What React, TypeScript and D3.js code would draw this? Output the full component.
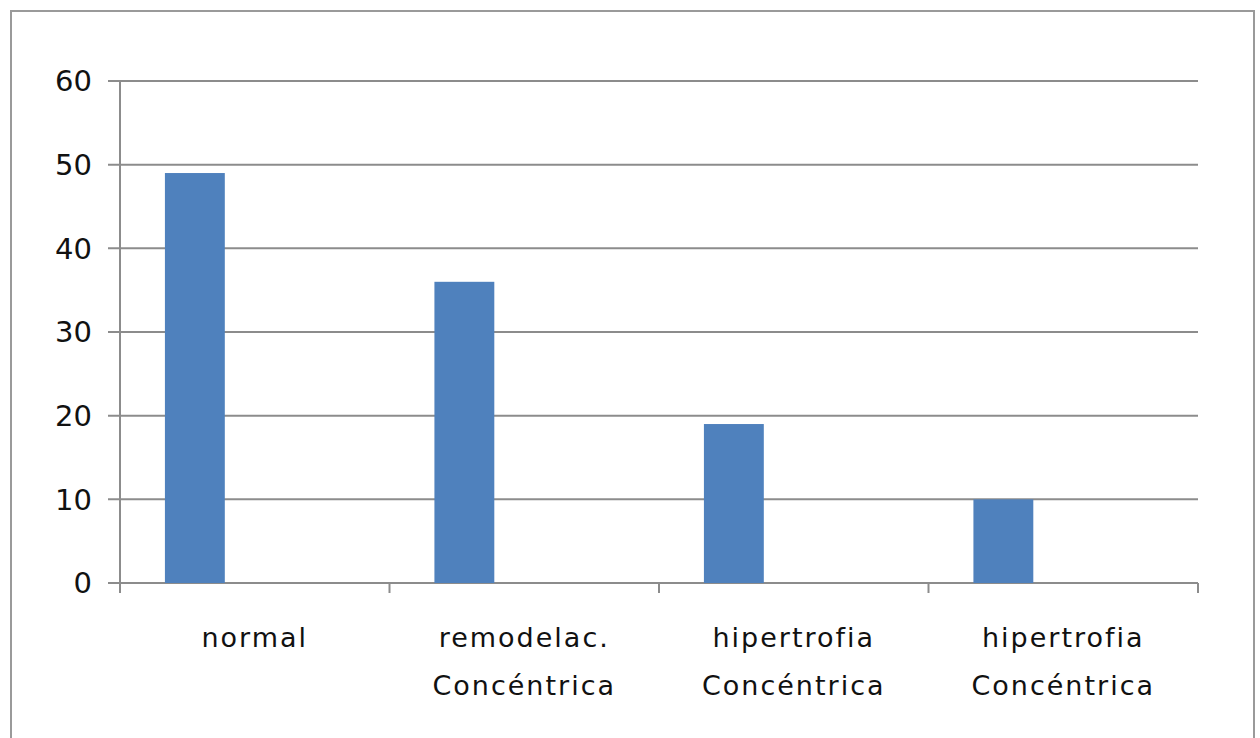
import React from "react";
import * as d3 from "d3";

const categories = ["normal", "remodelac.\nConcéntrica", "hipertrofia\nConcéntrica", "hipertrofia\nConcéntrica "];
const values = [49, 36, 19, 10];
const yTicks = [0, 10, 20, 30, 40, 50, 60];

export default function App() {
  const W = 1260, H = 738;
  const left = 120, right = 1198, top = 81, bottom = 583;
  const x = d3.scaleBand<string>().domain(categories).range([left, right]).padding(0);
  const y = d3.scaleLinear().domain([0, 60]).range([bottom, top]);
  const bw = x.bandwidth() / 4.5;
  const grid = "#8c8c8c";
  const font = "'DejaVu Sans', sans-serif";
  const edges = [...categories.map((c) => x(c) as number), right];
  return (
    <svg width={W} height={H} style={{ position: "absolute", left: 0, top: 0, background: "#fff" }}>
      <rect x={11} y={11} width={1243} height={740} fill="#fff" stroke="#9a9a9a" strokeWidth={2} />
      {yTicks.map((t) => (
        <g key={t}>
          <line x1={108} x2={right} y1={y(t)} y2={y(t)} stroke={grid} strokeWidth={2} />
          <text x={92} y={y(t)} dy="0.36em" textAnchor="end" fontFamily={font} fontSize={29} fill="#111">
            {t}
          </text>
        </g>
      ))}
      <line x1={left} x2={left} y1={top} y2={bottom + 10} stroke={grid} strokeWidth={2} />
      {edges.map((e, i) => (
        <line key={i} x1={e} x2={e} y1={bottom} y2={bottom + 10} stroke={grid} strokeWidth={2} />
      ))}
      {categories.map((c, i) => (
        <rect key={c} x={(x(c) as number) + 0.75 * bw} y={y(values[i])} width={bw} height={bottom - y(values[i])} fill="#4F81BD" />
      ))}
      {categories.map((c) => {
        const lines = c.trim().split("\n");
        const cx = (x(c) as number) + x.bandwidth() / 2;
        return (
          <text key={c} textAnchor="middle" fontFamily={font} fontSize={27} fill="#111" letterSpacing={2}>
            {lines.map((l, j) => (
              <tspan key={j} x={cx} y={647 + j * 48}>
                {l}
              </tspan>
            ))}
          </text>
        );
      })}
    </svg>
  );
}
